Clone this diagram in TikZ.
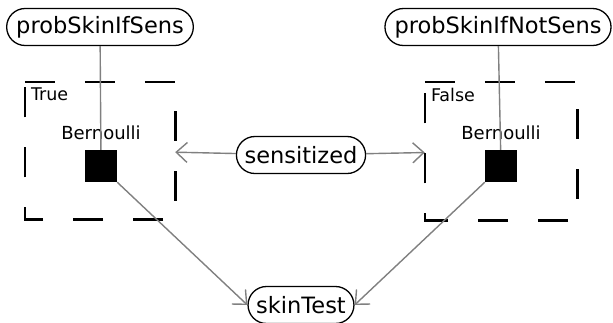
\documentclass[tikz,border=0pt]{standalone}
\usepackage{fontspec}
\setmainfont{DejaVu Sans}
\usetikzlibrary{shapes.misc,arrows.meta}

\tikzset{
	var/.style={draw, rounded rectangle, line width=1.3pt, inner xsep=6pt, inner ysep=2pt,
		minimum height=37pt, font=\fontsize{22.5}{27}\selectfont},
	factor/.style={fill=black, minimum size=32pt, inner sep=0pt,
		label={[font=\fontsize{18}{22}\selectfont, inner sep=2pt, label distance=8pt]above:Bernoulli}},
	platebox/.style={minimum width=150pt, minimum height=137pt, inner sep=0pt},
	plateline/.style={black, line width=2.6pt, dash pattern=on 30pt off 30pt},
	tag/.style={anchor=north west, inner sep=2pt, font=\fontsize{17.5}{21}\selectfont},
	link/.style={draw=gray, line width=1.4pt},
	arrowlink/.style={link, -{Straight Barb[length=11pt,width=20pt,line width=1.4pt]}}
}

\begin{document}
\begin{tikzpicture}[x=1pt,y=-1pt]
	\useasboundingbox (0,0) rectangle (613,322);

	% the two plates
	\node[platebox] (lplate) at (100,150.5) {};
	\node[platebox, minimum width=152pt, minimum height=138pt] (rplate) at (501,151) {};
	\draw[plateline] (lplate.north west) -- (lplate.north east) -- (lplate.south east) -- (lplate.south west) -- cycle;
	\draw[plateline] (rplate.north west) -- (rplate.north east) -- (rplate.south east) -- (rplate.south west) -- cycle;
	\node[tag] (ltag) at ([shift={(4,4)}]lplate.north west) {True};
	\node[tag] (rtag) at ([shift={(4,4)}]rplate.north west) {False};

	% variables
	\node[var] (psens) at (100,27) {probSkinIfSens};
	\node[var] (pnsens) at (498,27) {probSkinIfNotSens};
	\node[var] (sens) at (301,155) {sensitized};
	\node[var] (skin) at (301,305) {skinTest};

	% factors
	\node[factor] (lfac) at (101,166) {};
	\node[factor] (rfac) at (501,166) {};

	\draw[link] (psens) -- (lfac);
	\draw[link] (pnsens) -- (rfac);
	\draw[arrowlink] (sens) -- (lplate);
	\draw[arrowlink] (sens) -- (rplate);
	\draw[arrowlink] (lfac.south east) -- (skin.west);
	\draw[arrowlink] (rfac.south west) -- (skin.east);
\end{tikzpicture}
\end{document}
